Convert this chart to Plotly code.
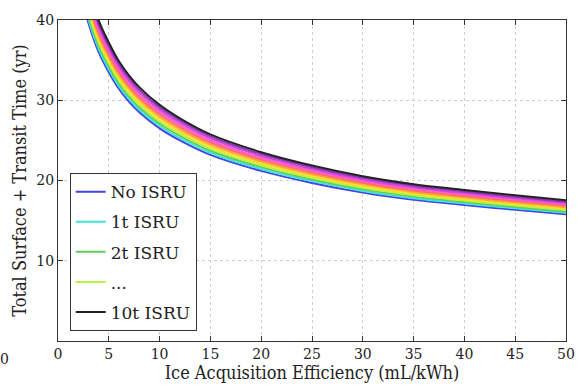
import plotly.graph_objects as go

# Ice acquisition efficiency (mL/kWh) sample points
efficiency = [2.5, 3, 4, 5, 6, 7, 8, 10, 12, 15, 20, 25, 30, 35, 40, 45, 50]

# Total surface + transit time (yr) for each ISRU payload case
t_no_isru = [42.00, 39.60, 36.00, 33.50, 31.40, 29.80, 28.50, 26.50, 25.00, 23.20, 21.20, 19.70, 18.50, 17.60, 16.95, 16.35, 15.80]
t_1t = [42.46, 40.04, 36.40, 33.87, 31.75, 30.13, 28.81, 26.79, 25.28, 23.46, 21.43, 19.92, 18.70, 17.79, 17.14, 16.53, 15.97]
t_2t = [42.92, 40.47, 36.79, 34.24, 32.09, 30.46, 29.13, 27.08, 25.55, 23.71, 21.67, 20.13, 18.91, 17.99, 17.32, 16.71, 16.15]
t_3t = [43.39, 40.91, 37.19, 34.61, 32.44, 30.78, 29.44, 27.38, 25.83, 23.97, 21.90, 20.35, 19.11, 18.18, 17.51, 16.89, 16.32]
t_4t = [43.85, 41.34, 37.58, 34.97, 32.78, 31.11, 29.75, 27.67, 26.10, 24.22, 22.13, 20.57, 19.31, 18.37, 17.70, 17.07, 16.50]
t_5t = [44.31, 41.78, 37.98, 35.34, 33.13, 31.44, 30.07, 27.96, 26.38, 24.48, 22.37, 20.78, 19.52, 18.57, 17.88, 17.25, 16.67]
t_6t = [44.77, 42.21, 38.38, 35.71, 33.47, 31.77, 30.38, 28.25, 26.65, 24.73, 22.60, 21.00, 19.72, 18.76, 18.07, 17.43, 16.84]
t_7t = [45.23, 42.65, 38.77, 36.08, 33.82, 32.10, 30.70, 28.54, 26.93, 24.99, 22.83, 21.22, 19.93, 18.96, 18.26, 17.61, 17.02]
t_8t = [45.70, 43.09, 39.17, 36.45, 34.16, 32.42, 31.01, 28.83, 27.20, 25.24, 23.07, 21.43, 20.13, 19.15, 18.44, 17.79, 17.19]
t_9t = [46.16, 43.52, 39.56, 36.82, 34.51, 32.75, 31.32, 29.12, 27.48, 25.50, 23.30, 21.65, 20.33, 19.34, 18.63, 17.97, 17.36]
t_10t = [46.62, 43.96, 39.96, 37.19, 34.85, 33.08, 31.64, 29.42, 27.75, 25.75, 23.53, 21.87, 20.54, 19.54, 18.82, 18.15, 17.54]

series = [t_no_isru, t_1t, t_2t, t_3t, t_4t, t_5t, t_6t, t_7t, t_8t, t_9t, t_10t]
names = ["No ISRU", "1t ISRU", "2t ISRU", "...", "4t", "5t", "6t", "7t", "8t", "9t", "10t ISRU"]
in_legend = [True, True, True, True, False, False, False, False, False, False, True]
colors = ["#4343e6", "#3fe3e3", "#5ccf5c", "#bdf23f", "#f2e12a", "#ffa733",
          "#ff6a6a", "#ff5cc4", "#d244e0", "#8e33b8", "#222222"]

x_ticks = [0, 5, 10, 15, 20, 25, 30, 35, 40, 45, 50]
y_ticks = [10, 20, 30, 40]

SERIF = "DejaVu Serif"
SERIF_NARROW = "DejaVu Serif Condensed, DejaVu Serif"

fig = go.Figure()
for i, (vals, name, show, col) in enumerate(zip(series, names, in_legend, colors)):
    fig.add_trace(go.Scatter(
        x=efficiency, y=vals, mode="lines", name=name,
        line=dict(color=col, width=2, shape="spline", smoothing=1.0),
        showlegend=show, legendgroup=f"g{i}",
    ))

axis_common = dict(
    showline=True, linecolor="#333333", linewidth=1.2, mirror="ticks",
    ticks="inside", ticklen=5, tickcolor="#333333", tickwidth=1.2,
    showgrid=True, gridcolor="#cfcfcf", gridwidth=1, griddash="3px,3px",
    zeroline=False, tickfont=dict(family=SERIF, size=14, color="#222222"),
)

fig.update_xaxes(
    range=[0, 50], tickvals=x_ticks, ticktext=[str(v) for v in x_ticks],
    title=dict(text="Ice Acquisition Efficiency (mL/kWh)", font=dict(family=SERIF_NARROW, size=18, color="#222222"), standoff=5),
    **axis_common,
)
fig.update_yaxes(
    range=[0, 40], tickvals=y_ticks, ticktext=[str(v) for v in y_ticks],
    title=dict(text="Total Surface + Transit Time (yr)", font=dict(family=SERIF_NARROW, size=18, color="#222222"), standoff=4),
    **axis_common,
)

fig.add_annotation(text="0", xref="paper", yref="paper", x=-0.105, y=-0.055,
                   xanchor="center", yanchor="middle",
                   showarrow=False, font=dict(family=SERIF, size=14, color="#222222"))

fig.update_layout(
    width=587, height=392,
    margin=dict(l=58, r=14, t=15, b=50),
    paper_bgcolor="white", plot_bgcolor="white",
    font=dict(family=SERIF, color="#222222"),
    legend=dict(
        x=0.023, y=0.523, xanchor="left", yanchor="top",
        bgcolor="white", bordercolor="#333333", borderwidth=1,
        font=dict(family=SERIF, size=17, color="#222222"),
        tracegroupgap=5, traceorder="grouped",
    ),
)

fig.write_html("out.html")
